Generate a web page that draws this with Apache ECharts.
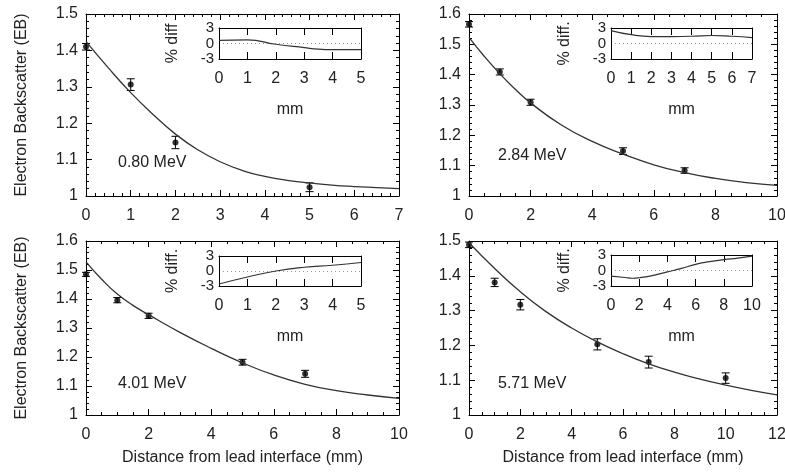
<!DOCTYPE html>
<html>
<head>
<meta charset="utf-8">
<script src="https://cdn.jsdelivr.net/npm/echarts@6/dist/echarts.min.js"></script>
<style>
  html, body { margin: 0; padding: 0; background: #fff; }
  #chart { width: 785px; height: 473px; }
</style>
</head>
<body>
<div id="chart"></div>
<script>
const font = '"Liberation Sans", Arial, sans-serif';
const ink = '#222';

// 0.80 MeV
const p1X = [0, 1, 2, 5];
const p1Y = [1.410, 1.306, 1.147, 1.024];
const p1Err = [0.009, 0.016, 0.017, 0.012];
const fit1X = [0, 0.5, 1, 1.5, 2, 2.5, 3, 3.5, 4, 4.5, 5, 5.5, 6, 6.5, 7];
const fit1Y = [1.425, 1.352, 1.284, 1.224, 1.170, 1.127, 1.094, 1.070, 1.054, 1.043, 1.036, 1.030, 1.026, 1.023, 1.020];
const diff1X = [0, 1, 2, 3, 3.5, 4, 5];
const diff1Y = [0.6, 0.7, -0.15, -0.8, -1.1, -1.2, -1.2];

// 2.84 MeV
const p2X = [0, 1, 2, 5, 7];
const p2Y = [1.566, 1.409, 1.309, 1.148, 1.084];
const p2Err = [0.009, 0.010, 0.010, 0.011, 0.009];
const fit2X = [0, 0.5, 1, 1.5, 2, 3, 4, 5, 6, 7, 8, 9, 10];
const fit2Y = [1.523, 1.460, 1.403, 1.352, 1.307, 1.234, 1.180, 1.138, 1.103, 1.077, 1.058, 1.044, 1.035];
const diff2X = [0, 1, 2, 3, 4, 5, 6, 7];
const diff2Y = [2.5, 1.7, 1.35, 1.35, 1.4, 1.55, 1.4, 1.15];

// 4.01 MeV
const p3X = [0, 1, 2, 5, 7];
const p3Y = [1.485, 1.396, 1.342, 1.182, 1.142];
const p3Err = [0.007, 0.009, 0.009, 0.010, 0.012];
const fit3X = [0, 0.5, 1, 1.5, 2, 3, 4, 5, 6, 7, 8, 9, 10];
const fit3Y = [1.528, 1.468, 1.417, 1.378, 1.346, 1.285, 1.230, 1.180, 1.138, 1.106, 1.084, 1.069, 1.057];
const diff3X = [0, 1, 2, 3, 4, 5];
const diff3Y = [-2.6, -1.2, 0, 0.75, 1.15, 1.7];

// 5.71 MeV
const p4X = [0, 1, 2, 5, 7, 10];
const p4Y = [1.489, 1.381, 1.317, 1.203, 1.152, 1.106];
const p4Err = [0.008, 0.012, 0.015, 0.016, 0.017, 0.015];
const fit4X = [0, 1, 2, 3, 4, 5, 6, 7, 8, 9, 10, 11, 12];
const fit4Y = [1.495, 1.421, 1.354, 1.297, 1.250, 1.210, 1.176, 1.147, 1.123, 1.103, 1.086, 1.071, 1.058];
const diff4X = [0, 1, 1.5, 2, 3, 4, 5, 6, 7, 8, 9, 10];
const diff4Y = [-1.1, -1.35, -1.5, -1.4, -0.95, -0.27, 0.4, 1.2, 1.7, 2.1, 2.4, 2.8];

const yTitle = 'Electron Backscatter (EB)';
const xTitle = 'Distance from lead interface (mm)';

const panels = [
  { grid: [86, 14, 313, 182], inset: [219, 28, 142, 31], xMax: 7, xInt: 1, xMinor: 5, yMax: 1.5,
    px: p1X, py: p1Y, err: p1Err, fx: fit1X, fy: fit1Y, dx: diff1X, dy: diff1Y, dMax: 5, dInt: 1,
    label: '0.80 MeV', at: [118, 155], yName: yTitle, xName: '', diffName: '% diff' },
  { grid: [469, 14, 308, 182], inset: [611, 28, 141, 31], xMax: 10, xInt: 2, xMinor: 4, yMax: 1.6,
    px: p2X, py: p2Y, err: p2Err, fx: fit2X, fy: fit2Y, dx: diff2X, dy: diff2Y, dMax: 7, dInt: 1,
    label: '2.84 MeV', at: [498, 148], yName: '', xName: '', diffName: '% diff.' },
  { grid: [86, 241, 313, 174], inset: [219, 256, 142, 30], xMax: 10, xInt: 2, xMinor: 4, yMax: 1.6,
    px: p3X, py: p3Y, err: p3Err, fx: fit3X, fy: fit3Y, dx: diff3X, dy: diff3Y, dMax: 5, dInt: 1,
    label: '4.01 MeV', at: [118, 376], yName: yTitle, xName: xTitle, diffName: '% diff.' },
  { grid: [469, 241, 308, 174], inset: [611, 255, 141, 31], xMax: 12, xInt: 2, xMinor: 4, yMax: 1.5,
    px: p4X, py: p4Y, err: p4Err, fx: fit4X, fy: fit4Y, dx: diff4X, dy: diff4Y, dMax: 10, dInt: 2,
    label: '5.71 MeV', at: [498, 376], yName: '', xName: xTitle, diffName: '% diff.' }
];

const labelStyle = { color: ink, fontSize: 16, fontFamily: font };
const frame = { show: true, onZero: false, lineStyle: { color: '#000', width: 1 } };

function errorBar(params, api) {
  const top = api.coord([api.value(0), api.value(2)]);
  const bot = api.coord([api.value(0), api.value(1)]);
  const w = 4;
  const style = { stroke: '#000', lineWidth: 1 };
  return {
    type: 'group',
    children: [
      { type: 'line', shape: { x1: top[0], y1: top[1], x2: bot[0], y2: bot[1] }, style },
      { type: 'line', shape: { x1: top[0] - w, y1: top[1], x2: top[0] + w, y2: top[1] }, style },
      { type: 'line', shape: { x1: bot[0] - w, y1: bot[1], x2: bot[0] + w, y2: bot[1] }, style }
    ]
  };
}

const grid = [], xAxis = [], yAxis = [], series = [], title = [];

panels.forEach((p, i) => {
  const g = grid.length;
  grid.push({ left: p.grid[0], top: p.grid[1], width: p.grid[2], height: p.grid[3], outerBoundsMode: 'none' });
  grid.push({ left: p.inset[0], top: p.inset[1], width: p.inset[2], height: p.inset[3], outerBoundsMode: 'none' });

  // main panel: labelled bottom/left, mirrored ticks top/right
  ['bottom', 'top'].forEach(pos => xAxis.push({
    gridIndex: g, type: 'value', min: 0, max: p.xMax, interval: p.xInt, position: pos,
    axisLine: frame,
    axisTick: { show: true, inside: true, length: 6, lineStyle: { color: '#000' } },
    minorTick: { show: true, splitNumber: p.xMinor, length: 3, lineStyle: { color: '#000' } },
    axisLabel: Object.assign({ show: pos === 'bottom', margin: 12, showMinLabel: true, showMaxLabel: true }, labelStyle),
    splitLine: { show: false },
    name: pos === 'bottom' ? p.xName : '', nameLocation: 'middle', nameGap: 35,
    nameTextStyle: labelStyle
  }));
  ['left', 'right'].forEach(pos => yAxis.push({
    gridIndex: g, type: 'value', min: 1, max: p.yMax, interval: 0.1, position: pos,
    axisLine: frame,
    axisTick: { show: true, inside: true, length: 6, lineStyle: { color: '#000' } },
    minorTick: { show: true, splitNumber: 5, length: 3, lineStyle: { color: '#000' } },
    axisLabel: Object.assign({ show: pos === 'left', margin: 8, showMinLabel: true, showMaxLabel: true,
      formatter: v => String(+v.toFixed(1)) }, labelStyle),
    splitLine: { show: false },
    name: pos === 'left' ? p.yName : '', nameLocation: 'middle', nameGap: 56,
    nameTextStyle: labelStyle
  }));

  // inset: % difference
  ['bottom', 'top'].forEach(pos => xAxis.push({
    gridIndex: g + 1, type: 'value', min: 0, max: p.dMax, interval: p.dInt, position: pos,
    axisLine: frame,
    axisTick: { show: true, inside: true, length: 7, lineStyle: { color: '#000' } },
    axisLabel: Object.assign({ show: pos === 'bottom', margin: 12, showMinLabel: true, showMaxLabel: true }, labelStyle),
    splitLine: { show: false },
    name: pos === 'bottom' ? 'mm' : '', nameLocation: 'middle', nameGap: 43,
    nameTextStyle: labelStyle
  }));
  ['left', 'right'].forEach(pos => yAxis.push({
    gridIndex: g + 1, type: 'value', min: -3, max: 3, interval: 3, position: pos,
    axisLine: frame,
    axisTick: { show: false },
    axisLabel: Object.assign({}, labelStyle, { show: pos === 'left', margin: 5, showMinLabel: true, showMaxLabel: true,
      hideOverlap: false, fontSize: 15, lineHeight: 12 }),
    splitLine: { show: pos === 'left', lineStyle: { color: '#999', type: [1, 3], width: 1 } },
    name: pos === 'left' ? p.diffName : '', nameLocation: 'middle', nameGap: 38,
    nameTextStyle: labelStyle
  }));

  const xi = i * 4, yi = i * 4;
  series.push({
    type: 'line', xAxisIndex: xi, yAxisIndex: yi, smooth: true, showSymbol: false,
    lineStyle: { color: '#333', width: 1.3 }, silent: true,
    data: p.fx.map((x, k) => [x, p.fy[k]])
  });
  series.push({
    type: 'custom', xAxisIndex: xi, yAxisIndex: yi, renderItem: errorBar, silent: true,
    data: p.px.map((x, k) => [x, p.py[k] - p.err[k], p.py[k] + p.err[k]])
  });
  series.push({
    type: 'scatter', xAxisIndex: xi, yAxisIndex: yi, symbolSize: 6, silent: true,
    itemStyle: { color: '#000' },
    data: p.px.map((x, k) => [x, p.py[k]])
  });
  series.push({
    type: 'line', xAxisIndex: xi + 2, yAxisIndex: yi + 2, smooth: true, showSymbol: false,
    lineStyle: { color: '#333', width: 1.2 }, silent: true,
    data: p.dx.map((x, k) => [x, p.dy[k]])
  });

  title.push({
    text: p.label, left: p.at[0], top: p.at[1], padding: 0,
    textStyle: { color: ink, fontSize: 16, fontWeight: 'normal', fontFamily: font }
  });
});

const chart = echarts.init(document.getElementById('chart'), null, { renderer: 'canvas' });
chart.setOption({ animation: false, backgroundColor: '#fff', title, grid, xAxis, yAxis, series });
</script>
</body>
</html>
